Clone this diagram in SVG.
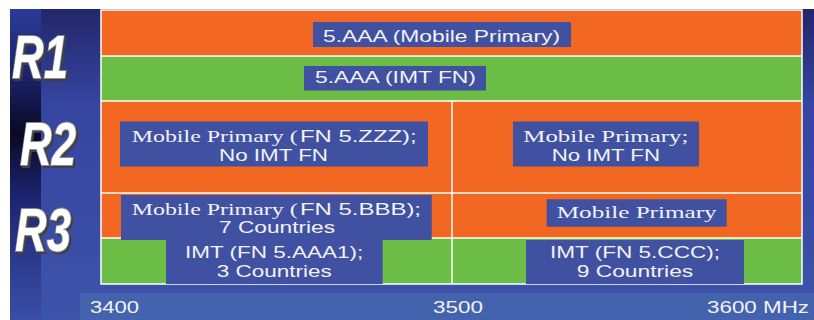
<svg xmlns="http://www.w3.org/2000/svg" width="814" height="320" viewBox="0 0 814 320">
<defs>
<linearGradient id="bg" x1="0" y1="0" x2="0" y2="1">
<stop offset="0" stop-color="#23266a"/>
<stop offset="0.3" stop-color="#3545a0"/>
<stop offset="1" stop-color="#3d53a9"/>
</linearGradient>
<linearGradient id="band" x1="0" y1="0" x2="0" y2="1">
<stop offset="0" stop-color="#2c3b98"/>
<stop offset="0.2" stop-color="#1c2470"/>
<stop offset="0.4" stop-color="#0a0a22"/>
<stop offset="0.6" stop-color="#1c2470"/>
<stop offset="1" stop-color="#3a4ea6"/>
</linearGradient>
<filter id="sh" x="-20%" y="-20%" width="140%" height="140%">
<feDropShadow dx="2" dy="2" stdDeviation="0.3" flood-color="#404040" flood-opacity="1"/>
</filter>
<style>
.box{fill:#4151a2}
.s{font-family:"Liberation Sans",Arial,sans-serif;font-size:16.5px;fill:#f2f2f2}
.t{font-family:"Liberation Serif","Times New Roman",serif;font-size:17.5px;fill:#f2f2f2}
.r{font-family:"Liberation Sans",Arial,sans-serif;font-weight:bold;font-style:italic;font-size:61px;fill:#ffffff;stroke:#8a8a8a;stroke-width:2;paint-order:stroke;filter:url(#sh)}
.or{fill:#f26722}
.gr{fill:#6bbd45}
.ln{stroke:#ffffff;stroke-width:1.5;fill:none}
</style>
</defs>
<rect x="0" y="0" width="814" height="320" fill="#ffffff"/>
<rect x="10" y="9" width="804" height="311" fill="url(#bg)"/>
<rect x="10" y="9" width="31" height="311" fill="url(#band)"/>

<g id="bands">
<rect class="or" x="101" y="10" width="701" height="46"/>
<rect class="gr" x="101" y="56" width="701" height="45"/>
<rect class="or" x="101" y="101" width="701" height="92"/>
<rect class="or" x="101" y="193" width="701" height="45"/>
<rect class="gr" x="101" y="238" width="701" height="46"/>
</g>

<g id="grid">
<rect class="ln" x="101" y="10" width="701" height="274"/>
<line class="ln" x1="101" y1="56" x2="802" y2="56"/>
<line class="ln" x1="101" y1="101" x2="802" y2="101"/>
<line class="ln" x1="101" y1="193" x2="802" y2="193"/>
<line class="ln" x1="101" y1="238" x2="802" y2="238"/>
<line class="ln" x1="452" y1="101" x2="452" y2="284"/>
</g>

<g id="label-r1">
<text class="r" x="12" y="78" textLength="56" lengthAdjust="spacingAndGlyphs">R1</text>
</g>
<g id="label-r2">
<text class="r" x="20" y="165" textLength="56" lengthAdjust="spacingAndGlyphs">R2</text>
</g>
<g id="label-r3">
<text class="r" x="15" y="251" textLength="56" lengthAdjust="spacingAndGlyphs">R3</text>
</g>

<g id="r1-mobile">
<rect class="box" x="313" y="22" width="258" height="25"/>
<text class="s" x="323" y="41.7" textLength="237" lengthAdjust="spacingAndGlyphs">5.AAA (Mobile Primary)</text>
</g>
<g id="r1-imt">
<rect class="box" x="304" y="66" width="182" height="24.5"/>
<text class="s" x="315" y="83.3" textLength="161" lengthAdjust="spacingAndGlyphs">5.AAA (IMT FN)</text>
</g>
<g id="r2-left">
<rect class="box" x="120" y="121.5" width="308" height="45"/>
<text class="t" x="131.7" y="141.7" textLength="166" lengthAdjust="spacingAndGlyphs">Mobile Primary (</text>
<text class="s" x="300" y="141.7" textLength="116.7" lengthAdjust="spacingAndGlyphs">FN 5.ZZZ);</text>
<text class="s" x="219" y="160.7" textLength="109" lengthAdjust="spacingAndGlyphs">No IMT FN</text>
</g>
<g id="r2-right">
<rect class="box" x="513" y="121.5" width="186" height="45"/>
<text class="t" x="523.3" y="141.7" textLength="165" lengthAdjust="spacingAndGlyphs">Mobile Primary;</text>
<text class="s" x="551.7" y="160.7" textLength="108.3" lengthAdjust="spacingAndGlyphs">No IMT FN</text>
</g>
<g id="r3-mobile-left">
<rect class="box" x="121" y="195" width="310.7" height="45"/>
<text class="t" x="131.7" y="215" textLength="166" lengthAdjust="spacingAndGlyphs">Mobile Primary (</text>
<text class="s" x="300" y="215" textLength="121" lengthAdjust="spacingAndGlyphs">FN 5.BBB);</text>
<text class="s" x="219" y="233.3" textLength="116" lengthAdjust="spacingAndGlyphs">7 Countries</text>
</g>
<g id="r3-imt-left">
<rect class="box" x="166" y="240" width="216.7" height="44"/>
<text class="s" x="185" y="258.3" textLength="178.3" lengthAdjust="spacingAndGlyphs">IMT (FN 5.AAA1);</text>
<text class="s" x="216.7" y="276.7" textLength="115" lengthAdjust="spacingAndGlyphs">3 Countries</text>
</g>
<g id="r3-mobile-right">
<rect class="box" x="546.7" y="199.3" width="180" height="27.4"/>
<text class="t" x="556.7" y="218.3" textLength="160" lengthAdjust="spacingAndGlyphs">Mobile Primary</text>
</g>
<g id="r3-imt-right">
<rect class="box" x="526" y="240" width="218" height="44"/>
<text class="s" x="550" y="258.3" textLength="170" lengthAdjust="spacingAndGlyphs">IMT (FN 5.CCC);</text>
<text class="s" x="576.7" y="276.7" textLength="116.6" lengthAdjust="spacingAndGlyphs">9 Countries</text>
</g>

<g id="axis">
<rect x="80" y="293" width="734" height="27" fill="#4363ae"/>
<text class="s" x="90" y="312.5" textLength="49" lengthAdjust="spacingAndGlyphs">3400</text>
<text class="s" x="433" y="312.5" textLength="50" lengthAdjust="spacingAndGlyphs">3500</text>
<text class="s" x="707" y="312.5" textLength="102" lengthAdjust="spacingAndGlyphs">3600 MHz</text>
</g>
</svg>
